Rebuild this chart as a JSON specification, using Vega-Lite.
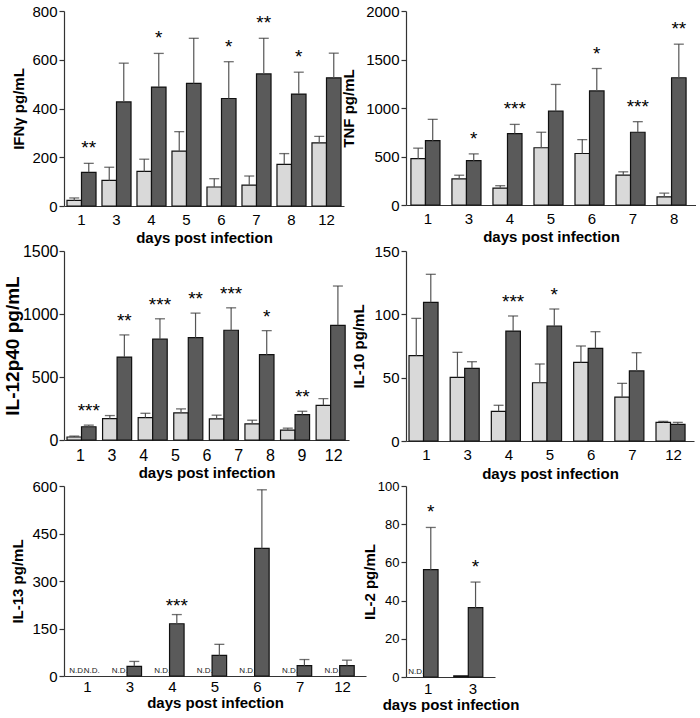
{
  "$schema": "https://vega.github.io/schema/vega-lite/v6.json",
  "padding": {"left": 3, "top": 4, "right": 0, "bottom": 0},
  "background": "white",
  "columns": 2,
  "bounds": "flush",
  "align": "each",
  "spacing": {"row": 45, "column": 40},
  "config": {
    "font": "Liberation Sans",
    "view": {"stroke": null},
    "axis": {"labelFont": "Liberation Sans", "titleFont": "Liberation Sans", "labelColor": "#000", "titleColor": "#000", "domainColor": "#333", "tickColor": "#333", "grid": false, "titleFontWeight": "bold", "domainWidth": 1.2, "labelOverlap": false},
    "axisY": {"tickSize": 5, "tickWidth": 1.2, "labelPadding": 2, "labelFontSize": 15, "titleFontSize": 15},
    "axisX": {"ticks": false, "tickSize": 0, "labelAngle": 0, "labelFontSize": 15, "titleFontSize": 15},
    "text": {"font": "Liberation Sans"}
  },
  "datasets": {
    "ifng": [
      {"day": 1, "group": "control", "mean": 23, "hi": 33},
      {"day": 1, "group": "infected", "mean": 138, "hi": 175, "sig": "**"},
      {"day": 3, "group": "control", "mean": 105, "hi": 159},
      {"day": 3, "group": "infected", "mean": 427, "hi": 586},
      {"day": 4, "group": "control", "mean": 142, "hi": 192},
      {"day": 4, "group": "infected", "mean": 488, "hi": 626, "sig": "*"},
      {"day": 5, "group": "control", "mean": 225, "hi": 305},
      {"day": 5, "group": "infected", "mean": 503, "hi": 688},
      {"day": 6, "group": "control", "mean": 78, "hi": 112},
      {"day": 6, "group": "infected", "mean": 441, "hi": 592, "sig": "*"},
      {"day": 7, "group": "control", "mean": 86, "hi": 123},
      {"day": 7, "group": "infected", "mean": 542, "hi": 688, "sig": "**"},
      {"day": 8, "group": "control", "mean": 171, "hi": 215},
      {"day": 8, "group": "infected", "mean": 459, "hi": 549, "sig": "*"},
      {"day": 12, "group": "control", "mean": 259, "hi": 286},
      {"day": 12, "group": "infected", "mean": 526, "hi": 627}
    ],
    "tnf": [
      {"day": 1, "group": "control", "mean": 478, "hi": 586},
      {"day": 1, "group": "infected", "mean": 663, "hi": 883},
      {"day": 3, "group": "control", "mean": 269, "hi": 307},
      {"day": 3, "group": "infected", "mean": 457, "hi": 527, "sig": "*"},
      {"day": 4, "group": "control", "mean": 175, "hi": 199},
      {"day": 4, "group": "infected", "mean": 736, "hi": 831, "sig": "***"},
      {"day": 5, "group": "control", "mean": 590, "hi": 750},
      {"day": 5, "group": "infected", "mean": 967, "hi": 1243},
      {"day": 6, "group": "control", "mean": 531, "hi": 674},
      {"day": 6, "group": "infected", "mean": 1176, "hi": 1407, "sig": "*"},
      {"day": 7, "group": "control", "mean": 307, "hi": 342},
      {"day": 7, "group": "infected", "mean": 750, "hi": 859, "sig": "***"},
      {"day": 8, "group": "control", "mean": 84, "hi": 122},
      {"day": 8, "group": "infected", "mean": 1312, "hi": 1658, "sig": "**"}
    ],
    "il12": [
      {"bar": 1, "group": "control", "mean": 24, "hi": 31},
      {"bar": 1, "group": "infected", "mean": 105, "hi": 118, "sig": "***"},
      {"bar": 2, "group": "control", "mean": 170, "hi": 194},
      {"bar": 2, "group": "infected", "mean": 658, "hi": 834, "sig": "**"},
      {"bar": 3, "group": "control", "mean": 178, "hi": 212},
      {"bar": 3, "group": "infected", "mean": 800, "hi": 962, "sig": "***"},
      {"bar": 4, "group": "control", "mean": 215, "hi": 247},
      {"bar": 4, "group": "infected", "mean": 813, "hi": 1007, "sig": "**"},
      {"bar": 5, "group": "control", "mean": 168, "hi": 197},
      {"bar": 5, "group": "infected", "mean": 871, "hi": 1049, "sig": "***"},
      {"bar": 6, "group": "control", "mean": 128, "hi": 157},
      {"bar": 6, "group": "infected", "mean": 677, "hi": 868, "sig": "*"},
      {"bar": 7, "group": "control", "mean": 79, "hi": 94},
      {"bar": 7, "group": "infected", "mean": 202, "hi": 228, "sig": "**"},
      {"bar": 8, "group": "control", "mean": 275, "hi": 328},
      {"bar": 8, "group": "infected", "mean": 910, "hi": 1222}
    ],
    "il12days": [
      {"day": 1}, {"day": 3}, {"day": 4}, {"day": 5}, {"day": 6}, {"day": 7}, {"day": 8}, {"day": 9}, {"day": 12}
    ],
    "il10": [
      {"day": 1, "group": "control", "mean": 67.4, "hi": 96.8},
      {"day": 1, "group": "infected", "mean": 109.5, "hi": 131.6},
      {"day": 3, "group": "control", "mean": 50.3, "hi": 70},
      {"day": 3, "group": "infected", "mean": 57.4, "hi": 62.6},
      {"day": 4, "group": "control", "mean": 23.4, "hi": 28.2},
      {"day": 4, "group": "infected", "mean": 86.8, "hi": 98.7, "sig": "***"},
      {"day": 5, "group": "control", "mean": 46, "hi": 60.8},
      {"day": 5, "group": "infected", "mean": 90.8, "hi": 104.2, "sig": "*"},
      {"day": 6, "group": "control", "mean": 62, "hi": 75},
      {"day": 6, "group": "infected", "mean": 73.2, "hi": 86.3},
      {"day": 7, "group": "control", "mean": 34.7, "hi": 45.5},
      {"day": 7, "group": "infected", "mean": 55.3, "hi": 69.7},
      {"day": 12, "group": "control", "mean": 14.7, "hi": 15.5},
      {"day": 12, "group": "infected", "mean": 13.2, "hi": 14.7}
    ],
    "il13": [
      {"day": 1, "group": "control", "nd": true},
      {"day": 1, "group": "infected", "nd": true},
      {"day": 3, "group": "control", "nd": true},
      {"day": 3, "group": "infected", "mean": 30.5, "hi": 46},
      {"day": 4, "group": "control", "nd": true},
      {"day": 4, "group": "infected", "mean": 165, "hi": 194, "sig": "***"},
      {"day": 5, "group": "control", "nd": true},
      {"day": 5, "group": "infected", "mean": 65, "hi": 100},
      {"day": 6, "group": "control", "nd": true},
      {"day": 6, "group": "infected", "mean": 403, "hi": 588},
      {"day": 7, "group": "control", "nd": true},
      {"day": 7, "group": "infected", "mean": 33, "hi": 52},
      {"day": 12, "group": "control", "nd": true},
      {"day": 12, "group": "infected", "mean": 33, "hi": 50}
    ],
    "il2": [
      {"day": 1, "group": "control", "nd": true},
      {"day": 1, "group": "infected", "mean": 56.2, "hi": 78.3, "sig": "*"},
      {"day": 3, "group": "control", "mean": 0.6},
      {"day": 3, "group": "infected", "mean": 36.3, "hi": 49.7, "sig": "*"}
    ]
  },
  "concat": [
    {
      "width": 280, "height": 195,
      "data": {"name": "ifng"},
      "encoding": {
        "x": {"field": "day", "type": "ordinal", "scale": {"paddingInner": 0.17, "paddingOuter": 0.085}, "axis": {"title": "days post infection", "labelPadding": 6, "titlePadding": 3}},
        "xOffset": {"field": "group", "type": "nominal", "scale": {"domain": ["control", "infected"], "paddingInner": 0, "paddingOuter": 0}}
      },
      "layer": [
        {"mark": {"type": "bar", "stroke": "#111", "strokeWidth": 1.2},
         "encoding": {"y": {"field": "mean", "type": "quantitative", "title": "IFNγ pg/mL", "scale": {"domain": [0, 800], "nice": false}, "axis": {"values": [0, 200, 400, 600, 800], "tickCount": 10, "format": "d", "labelOverlap": false, "titlePadding": 5}},
                      "fill": {"field": "group", "type": "nominal", "scale": {"domain": ["control", "infected"], "range": ["#d9d9d9", "#5a5a5a"]}, "legend": null}}},
        {"mark": {"type": "rule", "color": "#555", "strokeWidth": 1.2},
         "encoding": {"y": {"field": "mean", "type": "quantitative", "title": "IFNγ pg/mL"}, "y2": {"field": "hi"}}},
        {"mark": {"type": "tick", "orient": "horizontal", "size": 10, "thickness": 1.3, "color": "#333"},
         "encoding": {"y": {"field": "hi", "type": "quantitative", "title": "IFNγ pg/mL"}}},
        {"transform": [{"filter": "datum.sig"}],
         "mark": {"type": "text", "fontSize": 19, "dy": -9, "baseline": "alphabetic", "color": "#000"},
         "encoding": {"y": {"field": "hi", "type": "quantitative", "title": "IFNγ pg/mL"}, "text": {"field": "sig"}}}
      ]
    },
    {
      "width": 290, "height": 194,
      "data": {"name": "tnf"},
      "encoding": {
        "x": {"field": "day", "type": "ordinal", "scale": {"paddingInner": 0.17, "paddingOuter": 0.12}, "axis": {"title": "days post infection", "labelPadding": 6, "titlePadding": 3}},
        "xOffset": {"field": "group", "type": "nominal", "scale": {"domain": ["control", "infected"], "paddingInner": 0, "paddingOuter": 0}}
      },
      "layer": [
        {"mark": {"type": "bar", "stroke": "#111", "strokeWidth": 1.2},
         "encoding": {"y": {"field": "mean", "type": "quantitative", "title": "TNF pg/mL", "scale": {"domain": [0, 2000], "nice": false}, "axis": {"values": [0, 500, 1000, 1500, 2000], "tickCount": 10, "format": "d", "labelOverlap": false, "titlePadding": 9}},
                      "fill": {"field": "group", "type": "nominal", "scale": {"domain": ["control", "infected"], "range": ["#d9d9d9", "#5a5a5a"]}, "legend": null}}},
        {"mark": {"type": "rule", "color": "#555", "strokeWidth": 1.2},
         "encoding": {"y": {"field": "mean", "type": "quantitative", "title": "TNF pg/mL"}, "y2": {"field": "hi"}}},
        {"mark": {"type": "tick", "orient": "horizontal", "size": 10, "thickness": 1.3, "color": "#333"},
         "encoding": {"y": {"field": "hi", "type": "quantitative", "title": "TNF pg/mL"}}},
        {"transform": [{"filter": "datum.sig"}],
         "mark": {"type": "text", "fontSize": 19, "dy": -9, "baseline": "alphabetic", "color": "#000"},
         "encoding": {"y": {"field": "hi", "type": "quantitative", "title": "TNF pg/mL"}, "text": {"field": "sig"}}}
      ]
    },
    {
      "width": 285, "height": 189,
      "layer": [
        {
          "data": {"name": "il12"},
          "encoding": {
            "x": {"field": "bar", "type": "ordinal", "scale": {"paddingInner": 0.16, "paddingOuter": 0.084}, "axis": {"labels": false, "title": null, "domain": true, "ticks": false}},
            "xOffset": {"field": "group", "type": "nominal", "scale": {"domain": ["control", "infected"], "paddingInner": 0, "paddingOuter": 0}}
          },
          "layer": [
            {"mark": {"type": "bar", "stroke": "#111", "strokeWidth": 1.2},
             "encoding": {"y": {"field": "mean", "type": "quantitative", "title": "IL-12p40 pg/mL", "scale": {"domain": [0, 1500], "nice": false}, "axis": {"values": [0, 500, 1000, 1500], "tickCount": 10, "format": "d", "labelOverlap": false, "labelFontSize": 16, "labelPadding": 1, "titleFontSize": 19, "titlePadding": 0}},
                          "fill": {"field": "group", "type": "nominal", "scale": {"domain": ["control", "infected"], "range": ["#d9d9d9", "#5a5a5a"]}, "legend": null}}},
            {"mark": {"type": "rule", "color": "#555", "strokeWidth": 1.2},
             "encoding": {"y": {"field": "mean", "type": "quantitative", "title": "IL-12p40 pg/mL"}, "y2": {"field": "hi"}}},
            {"mark": {"type": "tick", "orient": "horizontal", "size": 10, "thickness": 1.3, "color": "#333"},
             "encoding": {"y": {"field": "hi", "type": "quantitative", "title": "IL-12p40 pg/mL"}}},
            {"transform": [{"filter": "datum.sig"}],
             "mark": {"type": "text", "fontSize": 19, "dy": -8, "baseline": "alphabetic", "color": "#000"},
             "encoding": {"y": {"field": "hi", "type": "quantitative", "title": "IL-12p40 pg/mL"}, "text": {"field": "sig"}}}
          ]
        },
        {
          "data": {"name": "il12days"},
          "mark": {"type": "point", "opacity": 0},
          "encoding": {
            "x": {"field": "day", "type": "ordinal", "scale": {"type": "point", "padding": 0.5}, "axis": {"orient": "bottom", "domain": false, "ticks": false, "labelFontSize": 16, "labelPadding": 7, "title": "days post infection", "titlePadding": 2}}
          }
        }
      ],
      "resolve": {"scale": {"x": "independent"}}
    },
    {
      "width": 288, "height": 190,
      "data": {"name": "il10"},
      "encoding": {
        "x": {"field": "day", "type": "ordinal", "scale": {"paddingInner": 0.15, "paddingOuter": 0.073}, "axis": {"title": "days post infection", "labelPadding": 6, "titlePadding": 4}},
        "xOffset": {"field": "group", "type": "nominal", "scale": {"domain": ["control", "infected"], "paddingInner": 0, "paddingOuter": 0}}
      },
      "layer": [
        {"mark": {"type": "bar", "stroke": "#111", "strokeWidth": 1.2},
         "encoding": {"y": {"field": "mean", "type": "quantitative", "title": "IL-10 pg/mL", "scale": {"domain": [0, 150], "nice": false}, "axis": {"values": [0, 50, 100, 150], "tickCount": 10, "format": "d", "labelOverlap": false, "titlePadding": 7}},
                      "fill": {"field": "group", "type": "nominal", "scale": {"domain": ["control", "infected"], "range": ["#d9d9d9", "#5a5a5a"]}, "legend": null}}},
        {"mark": {"type": "rule", "color": "#555", "strokeWidth": 1.2},
         "encoding": {"y": {"field": "mean", "type": "quantitative", "title": "IL-10 pg/mL"}, "y2": {"field": "hi"}}},
        {"mark": {"type": "tick", "orient": "horizontal", "size": 10, "thickness": 1.3, "color": "#333"},
         "encoding": {"y": {"field": "hi", "type": "quantitative", "title": "IL-10 pg/mL"}}},
        {"transform": [{"filter": "datum.sig"}],
         "mark": {"type": "text", "fontSize": 19, "dy": -8, "baseline": "alphabetic", "color": "#000"},
         "encoding": {"y": {"field": "hi", "type": "quantitative", "title": "IL-10 pg/mL"}, "text": {"field": "sig"}}}
      ]
    },
    {
      "width": 302, "height": 190,
      "data": {"name": "il13"},
      "encoding": {
        "x": {"field": "day", "type": "ordinal", "scale": {"paddingInner": 0.18, "paddingOuter": 0.14}, "axis": {"title": "days post infection", "labelPadding": 3, "titlePadding": 1}},
        "xOffset": {"field": "group", "type": "nominal", "scale": {"domain": ["control", "infected"], "paddingInner": 0, "paddingOuter": 0}}
      },
      "layer": [
        {"mark": {"type": "bar", "stroke": "#111", "strokeWidth": 1.2},
         "encoding": {"y": {"field": "mean", "type": "quantitative", "title": "IL-13 pg/mL", "scale": {"domain": [0, 600], "nice": false}, "axis": {"values": [0, 150, 300, 450, 600], "tickCount": 10, "format": "d", "labelOverlap": false, "titlePadding": 6}},
                      "fill": {"field": "group", "type": "nominal", "scale": {"domain": ["control", "infected"], "range": ["#d9d9d9", "#5a5a5a"]}, "legend": null}}},
        {"mark": {"type": "rule", "color": "#555", "strokeWidth": 1.2},
         "encoding": {"y": {"field": "mean", "type": "quantitative", "title": "IL-13 pg/mL"}, "y2": {"field": "hi"}}},
        {"mark": {"type": "tick", "orient": "horizontal", "size": 10, "thickness": 1.3, "color": "#333"},
         "encoding": {"y": {"field": "hi", "type": "quantitative", "title": "IL-13 pg/mL"}}},
        {"transform": [{"filter": "datum.sig"}],
         "mark": {"type": "text", "fontSize": 19, "dy": -3, "baseline": "alphabetic", "color": "#000"},
         "encoding": {"y": {"field": "hi", "type": "quantitative", "title": "IL-13 pg/mL"}, "text": {"field": "sig"}}},
        {"transform": [{"filter": "datum.nd"}],
         "mark": {"type": "text", "text": "N.D.", "fontSize": 8, "baseline": "bottom", "dy": -1, "color": "#222"},
         "encoding": {"y": {"datum": 0}}}
      ]
    },
    {
      "width": 89, "height": 191,
      "data": {"name": "il2"},
      "encoding": {
        "x": {"field": "day", "type": "ordinal", "scale": {"paddingInner": 0.146, "paddingOuter": 0.067}, "axis": {"title": "days post infection", "labelPadding": 4, "titlePadding": 1}},
        "xOffset": {"field": "group", "type": "nominal", "scale": {"domain": ["control", "infected"], "paddingInner": 0, "paddingOuter": 0}}
      },
      "layer": [
        {"mark": {"type": "bar", "stroke": "#111", "strokeWidth": 1.2},
         "encoding": {"y": {"field": "mean", "type": "quantitative", "title": "IL-2 pg/mL", "scale": {"domain": [0, 100], "nice": false}, "axis": {"values": [0, 20, 40, 60, 80, 100], "tickCount": 10, "format": "d", "labelOverlap": false, "labelFontSize": 13, "titlePadding": 0}},
                      "fill": {"field": "group", "type": "nominal", "scale": {"domain": ["control", "infected"], "range": ["#d9d9d9", "#5a5a5a"]}, "legend": null}}},
        {"mark": {"type": "rule", "color": "#555", "strokeWidth": 1.2},
         "encoding": {"y": {"field": "mean", "type": "quantitative", "title": "IL-2 pg/mL"}, "y2": {"field": "hi"}}},
        {"mark": {"type": "tick", "orient": "horizontal", "size": 10, "thickness": 1.3, "color": "#333"},
         "encoding": {"y": {"field": "hi", "type": "quantitative", "title": "IL-2 pg/mL"}}},
        {"transform": [{"filter": "datum.sig"}],
         "mark": {"type": "text", "fontSize": 19, "dy": -9, "baseline": "alphabetic", "color": "#000"},
         "encoding": {"y": {"field": "hi", "type": "quantitative", "title": "IL-2 pg/mL"}, "text": {"field": "sig"}}},
        {"transform": [{"filter": "datum.nd"}],
         "mark": {"type": "text", "text": "N.D.", "fontSize": 8, "baseline": "bottom", "dy": -1, "color": "#222"},
         "encoding": {"y": {"datum": 0}}}
      ]
    }
  ]
}
